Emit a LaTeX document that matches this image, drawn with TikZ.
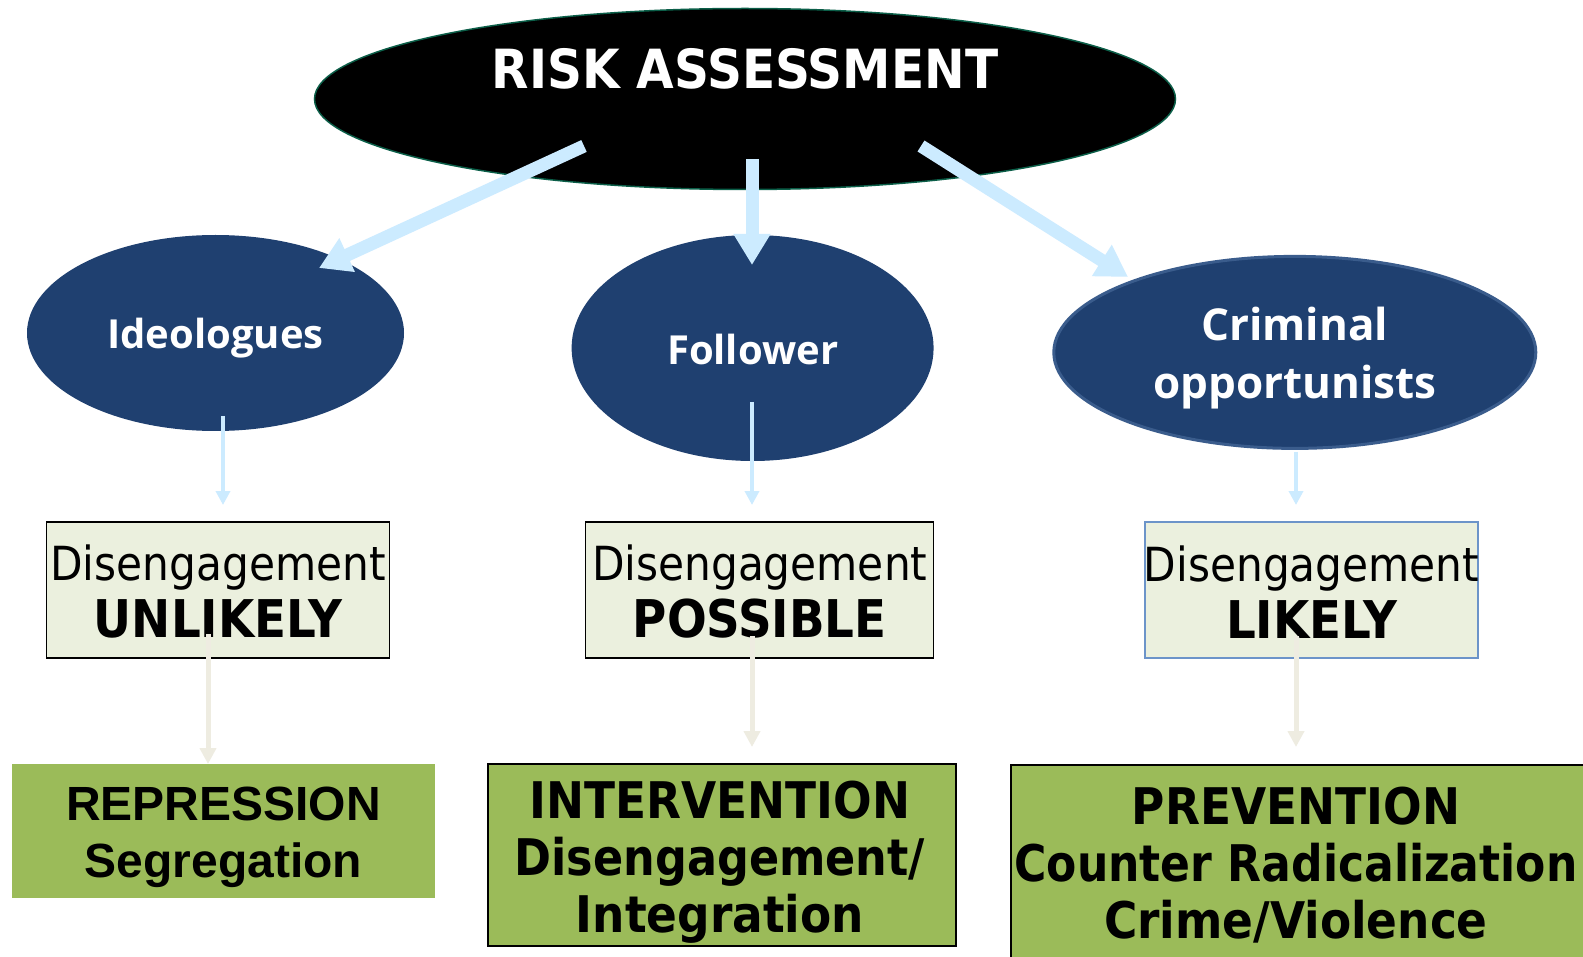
\documentclass[tikz,border=0pt]{standalone}
\usepackage{fontspec}
\setmainfont{DejaVu Sans}
\newfontfamily\tah{DejaVu Sans Condensed}
\newfontfamily\osans{Open Sans}
\newfontfamily\arialf{Liberation Sans}
\usetikzlibrary{shapes.geometric,arrows.meta}
\definecolor{navy}{HTML}{1F4070}
\definecolor{lblue}{HTML}{CCEBFF}
\definecolor{beige}{HTML}{EEECE1}
\definecolor{boxfill}{HTML}{EBF0DE}
\definecolor{grn}{HTML}{9BBB59}
\definecolor{teal}{HTML}{0B5E48}
\definecolor{boxblue}{HTML}{6C94C9}
\definecolor{ellborder}{HTML}{3A5C8C}
\tikzset{
  catell/.style={ellipse, fill=navy, inner sep=0pt, text=white, font=\osans\bfseries\fontsize{40}{46}\selectfont, align=center},
  dbox/.style={rectangle, fill=boxfill, draw=black, line width=1.5pt, inner sep=0pt, minimum height=136pt},
  dtext/.style={inner sep=0pt, align=center, font=\tah\fontsize{47}{57}\selectfont},
  gbox/.style={rectangle, fill=grn, inner sep=0pt},
  gtext/.style={inner sep=0pt, align=center, font=\tah\bfseries\fontsize{50.5}{57}\selectfont},
  bigarrow/.style={draw=lblue, line width=13pt, -{Triangle[width=35pt,length=31pt]}, color=lblue},
  smallarrow/.style={draw=lblue, line width=4pt, -{Triangle[width=14pt,length=14pt]}, color=lblue},
  beigearrow/.style={draw=beige, line width=5pt, -{Triangle[width=16pt,length=16pt]}, color=beige}
}
\newcommand{\bw}[1]{{\fontsize{52}{57}\selectfont\bfseries #1}}
\begin{document}
\begin{tikzpicture}[x=1pt,y=-1pt]
\useasboundingbox (0,0) rectangle (1583,957);
\fill[white] (0,0) rectangle (1583,957);
% top ellipse
\node[ellipse, fill=black, draw=teal, line width=1.5pt, minimum width=861pt, minimum height=181pt, inner sep=0pt] (ra) at (745,99) {};
\node[text=white, font=\tah\bfseries\fontsize{54}{60}\selectfont, inner sep=0pt] (ratext) at (745,69) {RISK ASSESSMENT};
% category ellipses
\node[catell, minimum width=377pt, minimum height=196pt] (ideo) at (215.5,333) {};
\node[catell] (ideot) at (215.5,338) {Ideologues};
\node[catell, minimum width=362pt, minimum height=226pt] (foll) at (752.6,348) {};
\node[catell] (follt) at (752.6,350) {Follower};
\node[catell, draw=ellborder, line width=3pt, minimum width=482pt, minimum height=192pt] (crim) at (1294.8,352.4) {};
\node[catell, font=\osans\bfseries\fontsize{44}{58}\selectfont] (crimt) at (1294.8,358.4) {Criminal\\opportunists};
% disengagement boxes
\node[dbox, minimum width=343pt] (b1) at (218,590) {};
\node[dtext] (b1t) at (218,592) {Disengagement\\\bw{UNLIKELY}};
\node[dbox, minimum width=348pt] (b2) at (759.7,590) {};
\node[dtext] (b2t) at (759.7,592) {Disengagement\\\bw{POSSIBLE}};
\node[dbox, minimum width=333pt, draw=boxblue] (b3) at (1311.5,590) {};
\node[dtext] (b3t) at (1311.5,592) {Disengagement\\\bw{LIKELY}};
% green boxes
\node[gbox, minimum width=423pt, minimum height=134pt] (g1) at (223.6,831.4) {};
\node[gtext, font=\arialf\bfseries\fontsize{48}{57}\selectfont] (g1t) at (223.6,837) {REPRESSION\\Segregation};
\node[gbox, draw=black, line width=2pt, minimum width=468pt, minimum height=182pt] (g2) at (721.9,855.2) {};
\node[gtext] (g2t) at (720,862) {INTERVENTION\\\scalebox{0.98}[1]{Disengagement/}\\Integration};
\node[gbox, draw=black, line width=2pt, minimum width=590pt, minimum height=200pt, anchor=north west] (g3) at (1009.6,764.3) {};
\node[gtext] (g3t) at (1296,865) {PREVENTION\\\scalebox{0.97}[1]{Counter Radicalization}\\Crime/Violence};
% coordinates for arrows
\coordinate (a1s) at (584,146);
\coordinate (a1e) at (319,268);
\coordinate (a2s) at (752,159);
\coordinate (a2e) at (752,265);
\coordinate (a3s) at (921,146);
\coordinate (a3e) at (1128,277);
\draw[bigarrow] (a1s) -- (a1e);
\draw[bigarrow] (a2s) -- (a2e);
\draw[bigarrow] (a3s) -- (a3e);
% small arrows
\coordinate (s1s) at (223,416); \coordinate (s1e) at (223,505);
\coordinate (s2s) at (752,402); \coordinate (s2e) at (752,505);
\coordinate (s3s) at (1296,452); \coordinate (s3e) at (1296,505);
\draw[smallarrow] (s1s) -- (s1e);
\draw[smallarrow] (s2s) -- (s2e);
\draw[smallarrow] (s3s) -- (s3e);
% beige arrows
\coordinate (t1s) at (208,634); \coordinate (t1e) at (208,764);
\coordinate (t2s) at (752,636); \coordinate (t2e) at (752,747);
\coordinate (t3s) at (1296,636); \coordinate (t3e) at (1296,747);
\draw[beigearrow] (t1s) -- (t1e);
\draw[beigearrow] (t2s) -- (t2e);
\draw[beigearrow] (t3s) -- (t3e);
\end{tikzpicture}
\end{document}
